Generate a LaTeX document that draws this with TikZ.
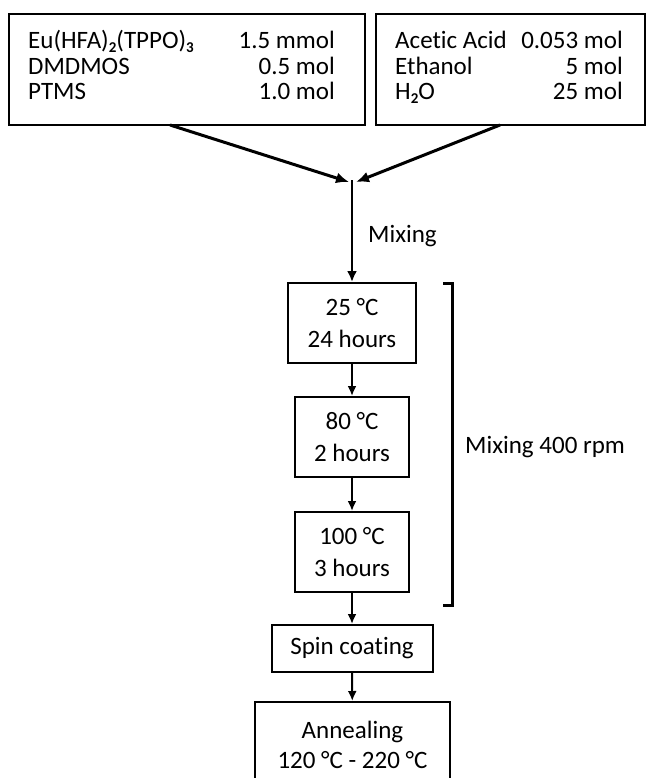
\documentclass[tikz,border=0pt]{standalone}
\usepackage{fontspec}
\setmainfont{Carlito}[Ligatures=CommonOff]
\usetikzlibrary{arrows.meta}
\newcommand\subdig[1]{\raisebox{-4pt}{\fontsize{15}{15}\selectfont\bfseries #1}}
\begin{document}
\begin{tikzpicture}[x=1pt,y=-1pt,
  box/.style={draw, line width=2pt, inner sep=0pt, align=center, font=\fontsize{25}{32}\selectfont},
  txt/.style={inner sep=0pt, font=\fontsize{25}{30}\selectfont},
  bigarrow/.style={line width=3pt, -{Latex[length=13pt,width=11pt]}},
  midarrow/.style={line width=2.5pt, -{Latex[length=11pt,width=10pt]}},
  arrow/.style={line width=2pt, -{Latex[length=10pt,width=9pt]}},
  bracket/.style={line width=3pt}]
\useasboundingbox (0,0) rectangle (646,778);
\begin{scope}
\clip (0,0) rectangle (646,778);
% top boxes
\node[box, minimum width=356pt, minimum height=111pt] (lbox) at (187,69.5) {};
\node[box, minimum width=269pt, minimum height=111pt] (rbox) at (510.5,69.5) {};
\node[txt, anchor=base west] (l1a) at (28,49) {Eu(HFA)\subdig{2}(TPPO)\subdig{3}};
\node[txt, anchor=base east] (l1b) at (335,49) {1.5 mmol};
\node[txt, anchor=base west] (l2a) at (28,75) {DMDMOS};
\node[txt, anchor=base east] (l2b) at (335,75) {0.5 mol};
\node[txt, anchor=base west] (l3a) at (28,100) {PTMS};
\node[txt, anchor=base east] (l3b) at (335,100) {1.0 mol};
\node[txt, anchor=base west] (r1a) at (395,49) {Acetic Acid};
\node[txt, anchor=base east] (r1b) at (623,49) {0.053 mol};
\node[txt, anchor=base west] (r2a) at (395,75) {Ethanol};
\node[txt, anchor=base east] (r2b) at (623,75) {5 mol};
\node[txt, anchor=base west] (r3a) at (395,100) {H\subdig{2}O};
\node[txt, anchor=base east] (r3b) at (623,100) {25 mol};
% converging arrows
\coordinate (ls) at (170,125);
\coordinate (rs) at (500,125);
\coordinate (ml) at (349,182);
\coordinate (mr) at (356,182);
\coordinate (mix) at (352,180);
\draw[bigarrow] (ls) -- (ml);
\draw[bigarrow] (rs) -- (mr);
\node[txt, anchor=base west] (mixlbl) at (368,242) {Mixing};
% process boxes
\node[box, minimum width=128pt, minimum height=80pt] (b1) at (352,323) {25 °C\\24 hours};
\node[box, minimum width=114pt, minimum height=80pt] (b2) at (352,437) {80 °C\\2 hours};
\node[box, minimum width=114pt, minimum height=80pt] (b3) at (352,552) {100 °C\\3 hours};
\node[box, minimum width=161pt, minimum height=47pt] (spin) at (352,648.5) {Spin coating};
\node[box, minimum width=195pt, minimum height=86pt, font=\fontsize{25}{30}\selectfont] (ann) at (352.5,745) {Annealing\\120 °C - 220 °C};
\draw[midarrow] (mix) -- (b1);
\draw[arrow] (b1) -- (b2);
\draw[arrow] (b2) -- (b3);
\draw[arrow] (b3) -- (spin);
\draw[arrow] (spin) -- (ann);
% bracket
\coordinate (bt) at (443,283);
\coordinate (bb) at (443,605);
\draw[bracket] (bt) -- (452,283) -- (452,605) -- (bb);
\node[txt, anchor=base west] (rpm) at (465,453) {Mixing 400 rpm};
\end{scope}
\end{tikzpicture}
\end{document}
